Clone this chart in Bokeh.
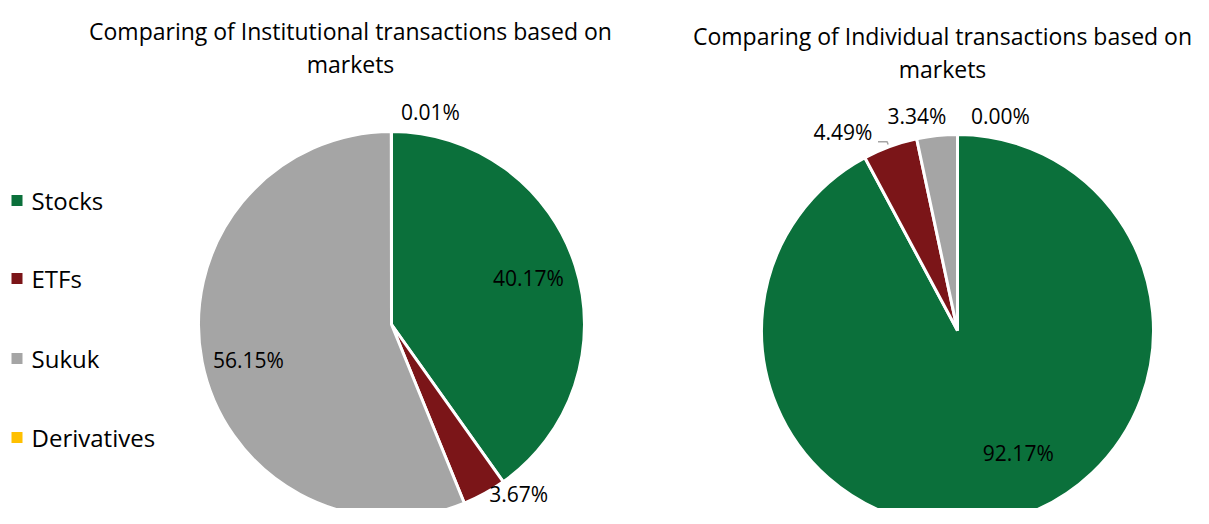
import math
from bokeh.plotting import figure
from bokeh.models import Range1d
from bokeh.core.properties import value
from bokeh.embed import file_html
from bokeh.resources import INLINE

# ---------------- data ----------------
categories = ["Stocks", "ETFs", "Sukuk", "Derivatives"]
colors = ["#0B703B", "#7B1518", "#A5A5A5", "#FFC000"]
institutional = [40.17, 3.67, 56.15, 0.01]
individual = [92.17, 4.49, 3.34, 0.00]
title_left = ["Comparing of Institutional transactions based on", "markets"]
title_right = ["Comparing of Individual transactions based on", "markets"]

# ---------------- layout (picture pixels) ----------------
W, H = 1193, 508
FONT = "Open Sans"


def px(X):
    return X


def py(Y):
    return H - Y


p = figure(width=W, height=H, output_backend="svg", toolbar_location=None,
           x_range=Range1d(0, W), y_range=Range1d(0, H), min_border=0)
p.axis.visible = False
p.grid.visible = False
p.outline_line_color = None
p.background_fill_color = "white"
p.border_fill_color = "white"


def draw_pie(vals, cx, cy, r, label_k, nudges, leader=None):
    total = sum(vals)
    cum = 0.0
    starts, ends, mids = [], [], []
    for v in vals:
        a0 = math.pi / 2 - 2 * math.pi * cum / total
        cum += v
        a1 = math.pi / 2 - 2 * math.pi * cum / total
        starts.append(a0)
        ends.append(a1)
        mids.append((a0 + a1) / 2)
    keep = [i for i, v in enumerate(vals) if v > 0]
    p.wedge(x=[px(cx)] * len(keep), y=[py(cy)] * len(keep), radius=r,
            start_angle=[ends[i] for i in keep], end_angle=[starts[i] for i in keep],
            direction="anticlock", fill_color=[colors[i] for i in keep],
            line_color="white", line_width=3)
    lx, ly, txt = [], [], []
    for i, v in enumerate(vals):
        k = label_k[i]
        dx, dy = nudges[i]
        X = cx + k * r * math.cos(mids[i]) + dx
        Y = cy - k * r * math.sin(mids[i]) + dy
        lx.append(px(X))
        ly.append(py(Y))
        txt.append(f"{v:.2f}%")
    p.text(x=lx, y=ly, text=txt, text_font=value(FONT), text_font_size="21px",
           text_color="#000000", text_align="center", text_baseline="middle")
    if leader is not None:
        i = leader
        ex = cx + r * math.cos(mids[i])
        ey = cy - r * math.sin(mids[i])
        X = cx + label_k[i] * r * math.cos(mids[i]) + nudges[i][0]
        Y = cy - label_k[i] * r * math.sin(mids[i]) + nudges[i][1]
        p.line(x=[px(X + 35), px(ex - 3), px(ex - 2)],
               y=[py(Y + 10), py(Y + 10), py(ey - 2)],
               line_color="#A5A5A5", line_width=1.5)


# left pie
draw_pie(institutional, 391, 324, 193,
         [0.75, 1.1, 0.75, 1.15],
         [(-1, -3), (25, -17), (-1, 8), (39, 9)])
# right pie
draw_pie(individual, 957, 330, 196,
         [0.75, 1.15, 1.15, 1.15],
         [(25, -20), (-37, 13), (-17, 10), (43, 11)], leader=1)

# titles
p.text(x=[px(350), px(350)], y=[py(30), py(63)], text=title_left,
       text_font=value(FONT), text_font_size="23px", text_color="#000000",
       text_align="center", text_baseline="middle")
p.text(x=[px(942), px(942)], y=[py(35), py(68)], text=title_right,
       text_font=value(FONT), text_font_size="23px", text_color="#000000",
       text_align="center", text_baseline="middle")

# legend
leg_y = [200, 278, 358, 437]
p.scatter(x=[px(16.5)] * 4, y=[py(v) for v in leg_y], marker="square", size=11,
          fill_color=colors, line_color=None)
p.text(x=[px(31)] * 4, y=[py(v) for v in leg_y], text=categories,
       text_font=value(FONT), text_font_size="24px", text_color="#000000",
       text_align="left", text_baseline="middle")

open("out.html", "w").write(file_html(p, INLINE))
